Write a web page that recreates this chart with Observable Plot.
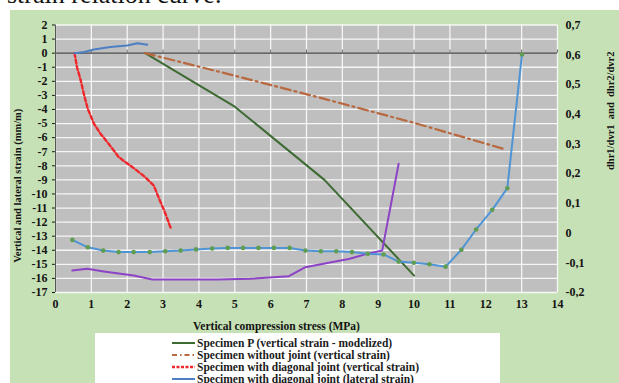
<!DOCTYPE html>
<html>
<head>
<meta charset="utf-8">
<script src="https://cdn.jsdelivr.net/npm/d3@7"></script>
<script src="https://cdn.jsdelivr.net/npm/@observablehq/plot@0.6"></script>
<style>
  html, body { margin: 0; padding: 0; background: #fff; }
  #wrap { position: relative; width: 619px; height: 383px; overflow: hidden; background: #fff;
          font-family: "Liberation Serif", "Tinos", "Times New Roman", "DejaVu Serif", serif; }
  #title { position: absolute; left: 7px; top: -18px; font-size: 26px; line-height: 26px; color: #111; white-space: nowrap; }
  #panel { position: absolute; left: 10px; top: 10px; right: 0; bottom: 0; background: #c6e1b5; }
  #chart { position: absolute; left: 0; top: 0; }
  #legend { position: absolute; left: 95px; top: 333px; width: 405px; height: 60px; background: #fff; }
  .row { position: absolute; left: 77px; height: 11px; line-height: 11px; display: flex; align-items: center;
         font-weight: bold; font-size: 11.5px; color: #1b1b1b; white-space: nowrap; }
  .row span { line-height: 11px; }
  .row svg { margin-right: 2px; }
  #chart svg text { font-family: "Liberation Serif", "Tinos", "Times New Roman", "DejaVu Serif", serif; }
</style>
</head>
<body>
<div id="wrap">
  <div id="title">strain relation curve.</div>
  <div id="panel"></div>
  <div id="chart"></div>
  <div id="legend"></div>
</div>
<script>
// Axis ticks
const xTicks = [0, 1, 2, 3, 4, 5, 6, 7, 8, 9, 10, 11, 12, 13, 14];
const yTicks = [2, 1, 0, -1, -2, -3, -4, -5, -6, -7, -8, -9, -10, -11, -12, -13, -14, -15, -16, -17];
const rTicks = [0.7, 0.6, 0.5, 0.4, 0.3, 0.2, 0.1, 0, -0.1, -0.2];

// Specimen P (vertical strain - modelized), strain in mm/m
const modelStress = [2.5, 5, 7.5, 10];
const modelStrain = [0, -3.8, -9.0, -15.8];

// Specimen without joint (vertical strain)
const intactStress = [2.5, 5, 7.5, 10, 12.5];
const intactStrain = [0, -1.6, -3.25, -4.95, -6.8];

// Specimen with diagonal joint (vertical strain)
const jointVStress = [0.53, 0.6, 0.7, 0.8, 0.9, 1.07, 1.25, 1.5, 1.77, 2.2, 2.5, 2.74, 2.9, 3.05, 3.21];
const jointVStrain = [0, -1.0, -1.9, -3.0, -3.95, -5.0, -5.7, -6.5, -7.4, -8.2, -8.8, -9.4, -10.4, -11.3, -12.4];

// Specimen with diagonal joint (lateral strain)
const jointLStress = [0.53, 0.8, 1.07, 1.53, 2.0, 2.28, 2.56];
const jointLStrain = [0, 0.08, 0.26, 0.43, 0.55, 0.71, 0.6];

// Strain ratio dhr1/dvr1 (right axis)
const ratio1Stress = [0.47, 0.90, 1.33, 1.76, 2.18, 2.63, 3.06, 3.49, 3.92, 4.37, 4.80, 5.23, 5.66, 6.09, 6.53,
                      6.97, 7.40, 7.83, 8.27, 8.71, 9.15, 9.57, 9.99, 10.43, 10.88, 11.32, 11.73, 12.18, 12.6, 13.01];
const ratio1 = [-0.023, -0.048, -0.059, -0.064, -0.064, -0.064, -0.061, -0.059, -0.055, -0.052, -0.050, -0.050, -0.050, -0.050, -0.050,
                -0.059, -0.061, -0.061, -0.064, -0.070, -0.072, -0.096, -0.100, -0.105, -0.113, -0.056, 0.012, 0.078, 0.151, 0.601];

// Strain ratio dhr2/dvr2 (right axis)
const ratio2Stress = [0.47, 0.88, 1.35, 2.18, 2.70, 3.58, 4.51, 5.44, 6.51, 6.97, 7.58, 8.18, 8.69, 9.11, 9.57];
const ratio2 = [-0.126, -0.120, -0.129, -0.143, -0.156, -0.156, -0.156, -0.154, -0.145, -0.115, -0.101, -0.087, -0.070, -0.059, 0.233];

// Right axis (-0.2 … 0.7) shares the frame with the left axis (-17 … 2)
const toLeft = r => -17 + (r + 0.2) * 19 / 0.9;
const comma = d => d === 0 ? "0" : String(d).replace(".", ",");

const pts = (xs, ys) => xs.map((x, i) => ({x, y: ys[i]}));
const ptsR = (xs, rs) => xs.map((x, i) => ({x, y: toLeft(rs[i])}));

const series = [
  {label: "Specimen P (vertical strain - modelized)", color: "#3e6b33", width: 2, dash: null, data: pts(modelStress, modelStrain)},
  {label: "Specimen without joint (vertical strain)", color: "#b8693f", width: 2.2, dash: "10,4,2,4", data: pts(intactStress, intactStrain)},
  {label: "Specimen with diagonal joint (vertical strain)", color: "#f0262a", width: 2.4, dash: "4,2.5", data: pts(jointVStress, jointVStrain)},
  {label: "Specimen with diagonal joint (lateral strain)", color: "#4d7fc4", width: 2, dash: null, data: pts(jointLStress, jointLStrain)}
];
const ratio1Data = ptsR(ratio1Stress, ratio1);
const ratio2Data = ptsR(ratio2Stress, ratio2);

const font = '"Liberation Serif", "Tinos", "Times New Roman", "DejaVu Serif", serif';

const chart = Plot.plot({
  width: 619,
  height: 333,
  marginLeft: 55,
  marginRight: 62,
  marginTop: 24.5,
  marginBottom: 41,
  style: {background: "transparent", fontFamily: font, fontSize: "12px", fontWeight: "bold", color: "#141414", overflow: "visible"},
  x: {domain: [0, 14], ticks: xTicks, tickSize: 0, tickPadding: 7, tickFormat: d => String(d), label: null},
  y: {domain: [-17, 2], ticks: yTicks, tickSize: 3, tickPadding: 5, tickFormat: d => String(d), label: null},
  marks: [
    Plot.frame({fill: "#bfbfbf", stroke: null}),
    Plot.ruleX(xTicks, {stroke: "#ffffff", strokeOpacity: 0.85, strokeWidth: 1.3}),
    Plot.ruleY(yTicks, {stroke: "#ffffff", strokeOpacity: 0.85, strokeWidth: 1.3}),
    Plot.ruleY([0], {stroke: "#6a6a6a", strokeWidth: 1.8}),
    Plot.ruleX(xTicks, {y1: 0, y2: 0.22, stroke: "#6a6a6a"}),
    Plot.ruleX([0], {stroke: "#555"}),
    // strain curves
    ...series.map(s => Plot.line(s.data, {x: "x", y: "y", stroke: s.color, strokeWidth: s.width, strokeDasharray: s.dash})),
    // strain ratios on the right axis
    Plot.line(ratio2Data, {x: "x", y: "y", stroke: "#8c43c6", strokeWidth: 2}),
    Plot.line(ratio1Data, {x: "x", y: "y", stroke: "#4f95d6", strokeWidth: 2}),
    Plot.dot(ratio1Data, {x: "x", y: "y", r: 2.3, fill: "#5e9d52", stroke: null}),
    // right axis
    Plot.text(rTicks, {x: 14, y: d => toLeft(d), text: comma, textAnchor: "start", dx: 8, fill: "#141414"}),
    // axis titles
    Plot.text(["Vertical compression stress (MPa)"], {frameAnchor: "bottom", textAnchor: "middle", lineAnchor: "middle", dx: -30, dy: 34, fontSize: 11.5, fill: "#141414"}),
    Plot.text(["Vertical and lateral strain (mm/m)"], {frameAnchor: "left", textAnchor: "middle", lineAnchor: "middle", dx: -38, dy: 27, rotate: -90, fontSize: 10.5, fill: "#141414"}),
    Plot.text(["dhr1/dvr1  and  dhr2/dvr2"], {frameAnchor: "right", textAnchor: "middle", lineAnchor: "middle", dx: 53, dy: -48, rotate: -90, fontSize: 10.5, fill: "#141414"})
  ]
});
document.getElementById("chart").appendChild(chart);

// Legend
const legend = document.getElementById("legend");
series.forEach((s, i) => {
  const row = document.createElement("div");
  row.className = "row";
  row.style.top = (4.5 + i * 12) + "px";
  const dash = s.dash ? ` stroke-dasharray="${s.dash === "4,2.5" ? "3,1.5" : "5,3,1.5,3"}"` : "";
  row.innerHTML = `<svg width="23" height="6"><line x1="0" y1="3" x2="23" y2="3" stroke="${s.color}" stroke-width="${s.width}"${dash}/></svg><span>${s.label}</span>`;
  legend.appendChild(row);
});
</script>
</body>
</html>
